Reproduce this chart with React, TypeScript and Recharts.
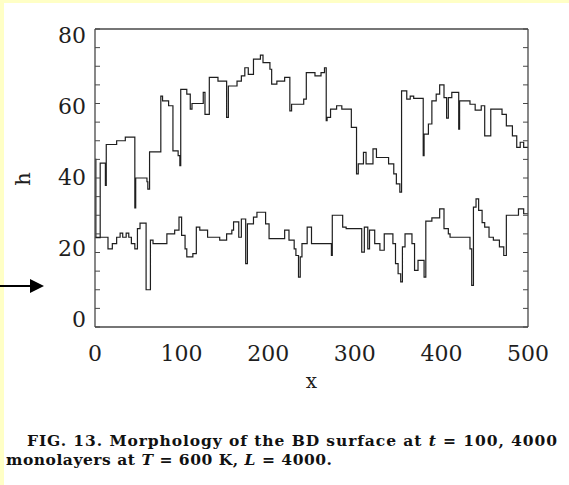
import React from 'react';
import { LineChart, Line, XAxis, YAxis } from 'recharts';

// step profiles: x positions where the height changes, and the new height
const upperX = [0, 1, 6, 12, 13, 25, 35, 46, 47, 60, 61, 63, 76, 78, 85, 90, 96, 98, 99, 106, 110, 112, 125, 127, 132, 142, 152, 154, 164, 169, 173, 177, 183, 191, 194, 202, 204, 210, 219, 225, 227, 241, 244, 254, 261, 265, 267, 268, 272, 279, 285, 296, 302, 304, 310, 313, 321, 325, 339, 345, 348, 352, 354, 360, 364, 368, 379, 380, 385, 389, 394, 398, 403, 406, 408, 412, 420, 421, 433, 439, 446, 450, 457, 470, 475, 482, 487, 491, 495, 500];
const upperH = [45, 24, 44, 38, 49, 50, 51, 32, 40, 39, 37, 47, 62, 60.7, 59.4, 47.3, 46, 43.3, 63.8, 62.5, 58.5, 60, 63, 57.1, 67, 66, 56.3, 64.7, 66, 67.4, 69.6, 67.8, 71.9, 73, 71, 69.2, 65.2, 66, 67, 58, 59.8, 61.2, 68.3, 67.4, 68.3, 69.6, 55.4, 56.3, 58.5, 59.4, 58.5, 53.6, 41.1, 43.8, 46.9, 43.8, 47.8, 45.5, 43.8, 41.1, 38.4, 36.2, 63.4, 61.2, 62, 61.4, 46, 51.8, 54.5, 60.7, 62.5, 65, 61.6, 56.1, 61.6, 63, 53.1, 60.7, 59.8, 58.2, 59.4, 51.3, 58.5, 57.1, 54, 51.3, 48.2, 49.6, 48.2, 48.2];

const lowerX = [0, 15, 20, 25, 29, 32, 36, 39, 42, 46, 49, 52, 59, 64, 67, 83, 92, 97, 100, 104, 106, 113, 117, 121, 130, 144, 152, 158, 160, 166, 169, 174, 176, 183, 187, 197, 201, 219, 224, 230, 232, 235, 237, 239, 245, 250, 273, 274, 286, 290, 308, 311, 315, 317, 323, 329, 334, 344, 347, 350, 353, 355, 358, 366, 369, 373, 380, 382, 389, 398, 403, 408, 410, 433, 435, 437, 440, 443, 447, 450, 455, 460, 467, 472, 475, 489, 495, 500];
const lowerH = [24.1, 21, 22.4, 24.1, 25.2, 24.1, 25.2, 24.1, 22.4, 21, 26.4, 27.9, 10, 23.3, 22.4, 25, 26, 29.5, 24.6, 21, 18.8, 19.7, 26.8, 26, 24.1, 23.3, 25, 26, 28.2, 24.1, 29, 17, 27.7, 29.5, 30.8, 27.7, 23.7, 26, 23.3, 21, 19.2, 13.4, 18.8, 22.4, 26.8, 22.4, 19.2, 30, 26.8, 26.4, 20.1, 26.8, 21, 26, 22.4, 20.6, 25, 22.4, 17, 14.3, 12.1, 21.5, 25, 22.4, 15.2, 17.9, 13.4, 28.4, 29.3, 31.7, 26.4, 25, 24.1, 21, 11.2, 32.2, 34.4, 31.3, 28, 26.8, 24.1, 23.3, 21.5, 19.2, 30, 31.7, 30.4, 30.4];

const xTicks = [0, 100, 200, 300, 400, 500];
const yTicks = [0, 20, 40, 60, 80];
const xMinorTicks = Array.from({ length: 51 }, (_, i) => i * 10);
const yMinorTicks = Array.from({ length: 17 }, (_, i) => i * 5);

const toPoints = (xs: number[], hs: number[]) => xs.map((x, i) => ({ x, h: hs[i] }));
const upper = toPoints(upperX, upperH);
const lower = toPoints(lowerX, lowerH);

const ink = '#1e1e1e';
const frame = '#484848';
const serif = '"DejaVu Serif", serif';

// tick marks only, no label
const NoLabel = () => <g />;

export default function App() {
  return (
    <div style={{ position: 'absolute', left: 0, top: 0, width: 569, height: 485, background: '#fff', overflow: 'hidden' }}>
      <div style={{ position: 'absolute', left: 0, top: 0, width: 569, height: 3, background: '#ffffc6' }} />
      <div style={{ position: 'absolute', left: 0, top: 0, width: 4, height: 485, background: '#ffffc6' }} />

      <div style={{ position: 'absolute', left: 0, top: 0 }}>
        <LineChart width={569} height={400} margin={{ top: 29, right: 41, bottom: 0, left: 0 }}>
          {/* labelled bottom axis, also the data x axis */}
          <XAxis
            xAxisId="x"
            dataKey="x"
            type="number"
            domain={[0, 500]}
            allowDataOverflow
            ticks={xTicks}
            interval={0}
            height={73}
            tickLine={false}
            tickSize={0}
            tickMargin={18}
            axisLine={{ stroke: frame, strokeWidth: 1.3 }}
            tick={{ fill: ink, fontSize: 22, fontFamily: serif }}
          />
          {/* inward minor ticks, bottom and top */}
          <XAxis xAxisId="xb" type="number" domain={[0, 500]} allowDataOverflow ticks={xMinorTicks} interval={0} mirror tick={NoLabel} axisLine={false} tickSize={4} tickLine={{ stroke: frame }} />
          <XAxis xAxisId="xt" orientation="top" type="number" domain={[0, 500]} allowDataOverflow ticks={xMinorTicks} interval={0} mirror tick={NoLabel} axisLine={{ stroke: frame, strokeWidth: 1.3 }} tickSize={4} tickLine={{ stroke: frame }} />

          {/* tick labels on the left sit slightly inside the frame in the original */}
          <YAxis
            yAxisId="yl"
            type="number"
            domain={[-2.1, 81.7]}
            allowDataOverflow
            ticks={yTicks}
            interval={0}
            width={95}
            tickLine={false}
            tickSize={0}
            tickMargin={9}
            axisLine={{ stroke: frame, strokeWidth: 1.3 }}
            tick={{ fill: ink, fontSize: 22, fontFamily: serif }}
          />
          {/* data y axis with inward ticks on the left, and the right frame */}
          <YAxis yAxisId="y" type="number" domain={[0, 80]} allowDataOverflow ticks={yMinorTicks} interval={0} mirror tick={NoLabel} axisLine={false} tickSize={5} tickLine={{ stroke: frame }} />
          <YAxis yAxisId="yr" orientation="right" type="number" domain={[0, 80]} allowDataOverflow ticks={yMinorTicks} interval={0} mirror tick={NoLabel} axisLine={{ stroke: frame, strokeWidth: 1.3 }} tickSize={5} tickLine={{ stroke: frame }} />

          <Line data={upper} xAxisId="x" yAxisId="y" dataKey="h" type="stepAfter" stroke={ink} strokeWidth={1.2} dot={false} isAnimationActive={false} />
          <Line data={lower} xAxisId="x" yAxisId="y" dataKey="h" type="stepAfter" stroke={ink} strokeWidth={1.2} dot={false} isAnimationActive={false} />
        </LineChart>
      </div>

      <svg width={569} height={485} style={{ position: 'absolute', left: 0, top: 0, pointerEvents: 'none' }}>
        <text x={22.5} y={179} transform="rotate(-90 22.5 179)" textAnchor="middle" dominantBaseline="central" fontFamily={serif} fontSize={21} fill={ink}>h</text>
        <text x={311.5} y={388} textAnchor="middle" fontFamily={serif} fontSize={20} fill={ink}>x</text>

        <line x1={0} y1={286} x2={32} y2={286} stroke="#000" strokeWidth={2} />
        <polygon points="30,279 44,286 30,293" fill="#000" />

        <text x={27} y={446} textLength={530} lengthAdjust="spacing" fontFamily={serif} fontSize={15.5} fontWeight="bold" fill="#111">
          FIG. 13.  Morphology of the BD surface at <tspan fontStyle="italic">t</tspan> = 100, 4000
        </text>
        <text x={6} y={465} textLength={326} lengthAdjust="spacing" fontFamily={serif} fontSize={15.5} fontWeight="bold" fill="#111">
          monolayers at <tspan fontStyle="italic">T</tspan> = 600 K, <tspan fontStyle="italic">L</tspan> = 4000.
        </text>
      </svg>
    </div>
  );
}
